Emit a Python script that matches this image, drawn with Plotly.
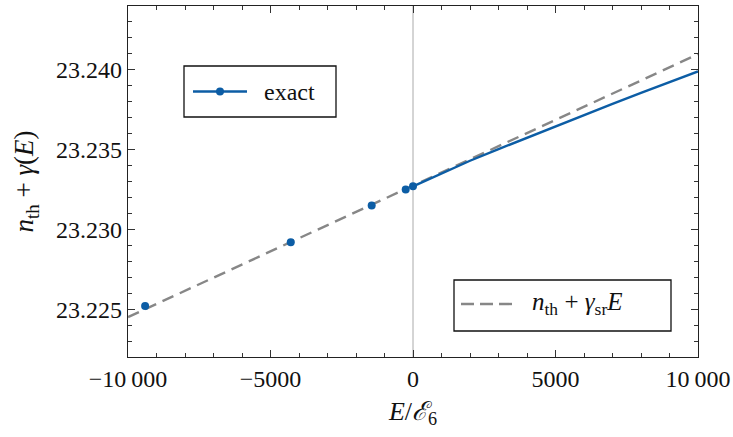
import plotly.graph_objects as go

# exact curve (E > 0)
exact_x = [0, 1000, 2000, 3000, 4000, 5000, 6000, 7000, 8000, 9000, 10000]
exact_y = [23.2327, 23.23352, 23.23430, 23.23503, 23.23575, 23.23645,
           23.23716, 23.23786, 23.23855, 23.23923, 23.23990]
# exact points (bound states, E <= 0)
pts_x = [-9400, -4290, -1450, -256, 0]
pts_y = [23.2252, 23.2292, 23.2315, 23.2325, 23.2327]
# linear approximation n_th + gamma_sr * E
lin_x = [-10000, 10000]
lin_y = [23.2245, 23.24098]

xticks = [-10000, -5000, 0, 5000, 10000]
xticklabels = ["\u221210\u2009000", "\u22125000", "0", "5000", "10\u2009000"]
yticks = [23.225, 23.230, 23.235, 23.240]
yticklabels = ["23.225", "23.230", "23.235", "23.240"]

label_exact = "exact"
label_lin = "<i>n</i><sub>th</sub> + <i>γ</i><sub>sr</sub><i>E</i>"

BLUE = "#0C5DA5"
GRAY = "#878787"
FONT = "Liberation Serif"
FS = 24

W, H = 733, 437
ML, MR, MT, MB = 128, 35, 6, 80
PW, PH = W - ML - MR, H - MT - MB


def px(x):
    return (x - ML) / PW


def py(y):
    return 1 - (y - MT) / PH


fig = go.Figure()
fig.add_trace(go.Scatter(x=lin_x, y=lin_y, mode="lines",
                         line=dict(color=GRAY, width=2.4, dash="12px,7px"),
                         name=label_lin, showlegend=False))
fig.add_trace(go.Scatter(x=exact_x, y=exact_y, mode="lines",
                         line=dict(color=BLUE, width=2.4), name=label_exact,
                         showlegend=False))
fig.add_trace(go.Scatter(x=pts_x, y=pts_y, mode="markers",
                         marker=dict(color=BLUE, size=8), name=label_exact,
                         showlegend=False))

fig.add_vline(x=0, line_color="#aaaaaa", line_width=1, layer="below")

# legend 1: exact
fig.add_shape(type="rect", xref="paper", yref="paper",
              x0=px(184), x1=px(336), y0=py(117), y1=py(66),
              line=dict(color="#111", width=1.3), fillcolor="white", layer="above")
fig.add_shape(type="line", xref="paper", yref="paper",
              x0=px(193), x1=px(247), y0=py(91.5), y1=py(91.5),
              line=dict(color=BLUE, width=2.4), layer="above")
fig.add_shape(type="circle", xref="paper", yref="paper",
              x0=px(216), x1=px(224), y0=py(95.5), y1=py(87.5),
              line=dict(color=BLUE, width=0), fillcolor=BLUE, layer="above")
fig.add_annotation(xref="paper", yref="paper", x=px(262), y=py(92),
                   xanchor="left", yanchor="middle", showarrow=False,
                   text=label_exact, font=dict(family=FONT, size=FS, color="#111"))

# legend 2: linear approximation
fig.add_shape(type="rect", xref="paper", yref="paper",
              x0=px(454), x1=px(671), y0=py(331), y1=py(280),
              line=dict(color="#111", width=1.3), fillcolor="white", layer="above")
fig.add_shape(type="line", xref="paper", yref="paper",
              x0=px(461), x1=px(512), y0=py(304), y1=py(304),
              line=dict(color=GRAY, width=2.4, dash="13px,6px"), layer="above")
fig.add_annotation(xref="paper", yref="paper", x=px(530), y=py(303),
                   xanchor="left", yanchor="middle", showarrow=False,
                   text=label_lin, font=dict(family=FONT, size=25, color="#111"))

axis_common = dict(showline=True, linecolor="#222", linewidth=1.3, mirror="allticks",
                   ticks="inside", ticklen=7, tickwidth=1.1, tickcolor="#333",
                   showgrid=False, zeroline=False, automargin=False,
                   tickfont=dict(family=FONT, size=FS, color="#111"))

fig.update_layout(
    width=W, height=H,
    margin=dict(l=ML, r=MR, t=MT, b=MB),
    paper_bgcolor="white", plot_bgcolor="white",
    font=dict(family=FONT, size=FS, color="#111"),
    showlegend=False,
    xaxis=dict(range=[-10000, 10000], tickmode="array", tickvals=xticks,
               ticktext=xticklabels,
               minor=dict(tick0=0, dtick=1000, ticks="inside", ticklen=4,
                          tickwidth=1, tickcolor="#333"),
               title=dict(text="<i>E</i>/<i>ℰ</i><sub>6</sub>",
                          font=dict(family=FONT, size=26), standoff=10),
               **axis_common),
    yaxis=dict(range=[23.222, 23.244], tickmode="array", tickvals=yticks,
               ticktext=yticklabels,
               minor=dict(tick0=23.222, dtick=0.001, ticks="inside", ticklen=4,
                          tickwidth=1, tickcolor="#333"),
               title=dict(text="<i>n</i><sub>th</sub> + <i>γ</i>(<i>E</i>)",
                          font=dict(family=FONT, size=27), standoff=14),
               **axis_common),
)

fig.write_html("out.html")
